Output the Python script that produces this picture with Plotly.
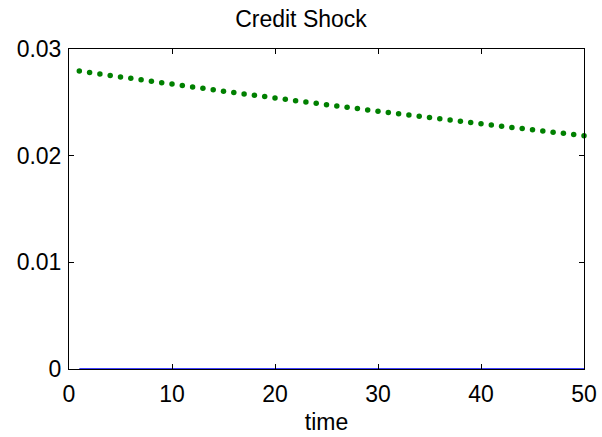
import plotly.graph_objects as go

# Impulse response to a credit shock, periods 1..50
time = list(range(1, 51))
credit_response = [
    0.02794, 0.02780, 0.02766, 0.02752, 0.02738, 0.02725, 0.02711, 0.02698, 0.02684, 0.02671,
    0.02658, 0.02644, 0.02631, 0.02618, 0.02605, 0.02592, 0.02579, 0.02567, 0.02554, 0.02541,
    0.02528, 0.02516, 0.02503, 0.02491, 0.02478, 0.02466, 0.02454, 0.02442, 0.02429, 0.02417,
    0.02405, 0.02393, 0.02381, 0.02369, 0.02358, 0.02346, 0.02334, 0.02322, 0.02311, 0.02299,
    0.02288, 0.02276, 0.02265, 0.02254, 0.02242, 0.02231, 0.02220, 0.02209, 0.02198, 0.02187,
]
baseline = [0.0] * 50

x_ticks = [0, 10, 20, 30, 40, 50]
y_ticks = [0, 0.01, 0.02, 0.03]
y_tick_labels = ["0", "0.01", "0.02", "0.03"]

FONT = "Liberation Sans, Arial, Helvetica, sans-serif"
FONT_SIZE = 23

fig = go.Figure()
fig.add_trace(go.Scatter(
    x=time, y=baseline, mode="lines",
    line=dict(color="#0000ff", width=1.5),
    cliponaxis=False, showlegend=False,
))
fig.add_trace(go.Scatter(
    x=time, y=credit_response, mode="markers",
    marker=dict(color="#008000", size=5.5),
    cliponaxis=False, showlegend=False,
))

axis_common = dict(
    showline=True, linecolor="black", linewidth=1,
    mirror="ticks", ticks="inside", ticklen=5, tickcolor="black",
    showgrid=False, zeroline=False, automargin=False,
    tickfont=dict(family=FONT, size=FONT_SIZE, color="black"),
)

fig.update_layout(
    width=602, height=437,
    margin=dict(l=69, r=18, t=49, b=68),
    paper_bgcolor="white", plot_bgcolor="white",
    title=dict(
        text="Credit Shock", x=0.5, xanchor="center",
        y=1 - 19 / 437, yref="container", yanchor="middle",
        font=dict(family=FONT, size=FONT_SIZE, color="black"),
    ),
    xaxis=dict(
        range=[0, 50], tickvals=x_ticks, ticklabelstandoff=4,
        title=dict(text="time", standoff=8,
                   font=dict(family=FONT, size=FONT_SIZE, color="black")),
        **axis_common,
    ),
    yaxis=dict(
        range=[0, 0.03], tickvals=y_ticks, ticktext=y_tick_labels,
        ticklabelstandoff=2,
        **axis_common,
    ),
)

fig.write_html("out.html")
